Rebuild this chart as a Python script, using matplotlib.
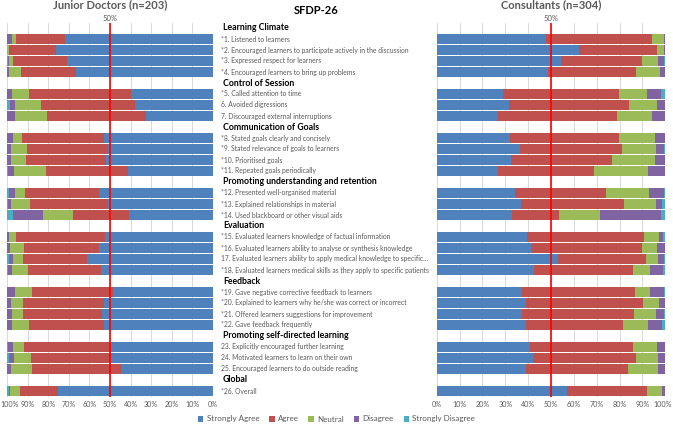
import matplotlib
matplotlib.use("Agg")
import matplotlib.pyplot as plt
import matplotlib.transforms as mtransforms
from matplotlib.patches import Patch
import numpy as np

plt.rcParams['font.family'] = ['Lato', 'DejaVu Sans']

levels = ['Strongly Agree', 'Agree', 'Neutral', 'Disagree', 'Strongly Disagree']
colors = ['#4F81BD', '#C0504D', '#9BBB59', '#8064A2', '#4BACC6']

sections = [
    ('Learning Climate', [
        '*1. Listened to learners',
        '*2. Encouraged learners to participate actively in the discussion',
        '*3. Expressed respect for learners',
        '*4. Encouraged learners to bring up problems']),
    ('Control of Session', [
        '*5. Called attention to time',
        '6. Avoided digressions',
        '7. Discouraged external interruptions']),
    ('Communication of Goals', [
        '*8. Stated goals clearly and concisely',
        '*9. Stated relevance of goals to learners',
        '*10. Prioritised goals',
        '*11. Repeated goals periodically']),
    ('Promoting understanding and retention', [
        '*12. Presented well-organised material',
        '*13. Explained relationships in material',
        '*14. Used blackboard or other visual aids']),
    ('Evaluation', [
        '*15. Evaluated learners knowledge of factual information',
        '*16. Evaluated learners ability to analyse or synthesis knowledge',
        '17. Evaluated learners ability to apply medical knowledge to specific...',
        '*18. Evaluated learners medical skills as they apply to specific patients']),
    ('Feedback', [
        '*19. Gave negative corrective feedback to learners',
        '*20. Explained to learners why he/she was correct or incorrect',
        '*21. Offered learners suggestions for improvement',
        '*22. Gave feedback frequently']),
    ('Promoting self-directed learning', [
        '23. Explicitly encouraged further learning',
        '24. Motivated learners to learn on their own',
        '25. Encouraged learners to do outside reading']),
    ('Global', [
        '*26. Overall']),
]

# % per item: Strongly Agree, Agree, Neutral, Disagree, Strongly Disagree
junior = [
    [72.0, 23.4, 2.4, 2.1, 0.1],
    [76.3, 22.6, 1.0, 0.1, 0.0],
    [70.8, 26.3, 1.8, 0.5, 0.6],
    [66.5, 26.8, 5.8, 0.9, 0.0],
    [39.7, 49.5, 8.4, 2.4, 0.0],
    [37.7, 46.0, 12.4, 2.6, 1.3],
    [32.7, 48.1, 15.3, 3.9, 0.0],
    [53.0, 39.7, 4.4, 2.9, 0.0],
    [51.1, 39.2, 7.6, 2.1, 0.0],
    [51.9, 38.9, 7.3, 1.9, 0.0],
    [41.3, 39.8, 15.6, 2.9, 0.4],
    [55.1, 36.3, 4.8, 2.7, 1.1],
    [51.1, 37.6, 9.2, 1.8, 0.3],
    [40.8, 27.1, 14.4, 14.8, 2.9],
    [52.6, 43.1, 3.1, 1.2, 0.0],
    [55.2, 36.6, 6.9, 1.3, 0.0],
    [61.1, 31.1, 4.9, 1.8, 1.1],
    [54.5, 35.2, 7.9, 2.1, 0.3],
    [48.5, 39.2, 8.4, 3.9, 0.0],
    [53.1, 39.2, 5.8, 1.9, 0.0],
    [53.7, 38.5, 5.5, 2.3, 0.0],
    [53.1, 36.1, 8.4, 2.4, 0.0],
    [49.5, 42.3, 5.3, 2.4, 0.5],
    [49.5, 38.8, 8.5, 2.1, 1.1],
    [44.5, 43.2, 10.2, 2.1, 0.0],
    [75.3, 18.4, 4.8, 0.3, 1.2],
]

consultants = [
    [47.8, 46.6, 5.0, 0.6, 0.0],
    [62.1, 34.1, 3.4, 0.4, 0.0],
    [54.5, 35.3, 7.0, 2.5, 0.7],
    [48.7, 38.4, 10.6, 2.3, 0.0],
    [29.2, 50.4, 12.2, 6.3, 1.9],
    [31.8, 52.2, 12.4, 3.6, 0.0],
    [26.7, 52.2, 15.4, 5.7, 0.0],
    [32.1, 47.5, 15.7, 4.4, 0.3],
    [36.3, 44.9, 14.7, 3.4, 0.7],
    [32.5, 44.4, 18.4, 4.4, 0.3],
    [26.8, 41.8, 23.8, 7.3, 0.3],
    [34.4, 39.8, 18.5, 6.7, 0.6],
    [37.0, 45.0, 14.0, 2.5, 1.5],
    [32.8, 20.7, 17.9, 26.7, 1.9],
    [39.4, 51.2, 6.5, 1.9, 1.0],
    [41.5, 48.3, 6.6, 3.6, 0.0],
    [52.9, 38.8, 5.1, 2.5, 0.7],
    [42.7, 43.1, 7.6, 5.6, 1.0],
    [37.3, 49.4, 6.8, 5.8, 0.7],
    [39.1, 51.3, 6.7, 2.9, 0.0],
    [37.3, 48.8, 9.9, 3.6, 0.4],
    [39.1, 42.3, 11.0, 6.3, 1.3],
    [40.8, 45.1, 10.5, 3.6, 0.0],
    [42.1, 45.1, 9.6, 3.2, 0.0],
    [39.1, 44.5, 13.2, 2.9, 0.3],
    [57.1, 34.7, 6.9, 1.3, 0.0],
]

# row layout: header rows stay empty in the bar panels
header_rows, item_rows, item_labels = [], [], []
row = 0
for head, items in sections:
    header_rows.append((row, head))
    row += 1
    for it in items:
        item_rows.append(row)
        item_labels.append(it)
        row += 1
n_rows = row

W, H = 673, 424
fig = plt.figure(figsize=(W / 100, H / 100), dpi=100)

y0, y1 = 1 - 396.5 / H, 1 - 22.5 / H
ax_l = fig.add_axes([7 / W, y0, (213 - 7) / W, y1 - y0])
ax_r = fig.add_axes([436.7 / W, y0, (665.3 - 436.7) / W, y1 - y0])
ax_m = fig.add_axes([213 / W, y0, (436.7 - 213) / W, y1 - y0])

grey = '#595959'


def draw_panel(ax, data, title):
    data = np.array(data)
    left = np.zeros(len(data))
    for k in range(len(levels)):
        ax.barh(item_rows, data[:, k], left=left, height=0.82,
                color=colors[k], edgecolor='none', zorder=2)
        left += data[:, k]
    ax.set_xlim(0, 100)
    ax.set_ylim(n_rows - 0.5, -0.5)
    ax.set_xticks(np.arange(0, 101, 10))
    ax.set_xticklabels(['%d%%' % v for v in range(0, 101, 10)])
    ax.tick_params(axis='x', length=0, labelsize=5.1, colors=grey, pad=3)
    ax.set_yticks([])
    ax.grid(axis='x', color='#D9D9D9', linewidth=0.7, zorder=0)
    for s in ax.spines.values():
        s.set_visible(False)
    ax.axvline(50, color='#FF0000', linewidth=1.2, zorder=5)
    ax.text(50, -0.55, '50%', ha='center', va='bottom', fontsize=5.5, color=grey)
    ax.set_title(title, fontsize=8, color=grey, fontweight='bold', pad=10)


draw_panel(ax_l, junior, 'Junior Doctors (n=203)')
ax_l.invert_xaxis()
draw_panel(ax_r, consultants, 'Consultants (n=304)')

# keep the outer tick labels inside the canvas
shift = mtransforms.ScaledTranslation(2 / 72, 0, fig.dpi_scale_trans)
lab = ax_l.get_xticklabels()[-1]
lab.set_transform(lab.get_transform() + shift)
shift_r = mtransforms.ScaledTranslation(-2 / 72, 0, fig.dpi_scale_trans)
lab = ax_r.get_xticklabels()[-1]
lab.set_transform(lab.get_transform() + shift_r)

ax_m.set_xlim(0, 1)
ax_m.set_ylim(n_rows - 0.5, -0.5)
ax_m.axis('off')
for r, head in header_rows:
    ax_m.text(0.045, r, head, fontsize=6.3, fontweight='bold', color='black',
              ha='left', va='center')
for r, lab in zip(item_rows, item_labels):
    ax_m.text(0.036, r, lab, fontsize=4.85, color=grey, ha='left', va='center')
fig.text(316 / W, 1 - 10 / H, 'SFDP-26', fontsize=8, fontweight='bold',
         ha='center', va='center')

handles = [Patch(facecolor=c, edgecolor='none') for c in colors]
fig.legend(handles, levels, loc='center', bbox_to_anchor=(0.5, 1 - 419 / H),
           ncol=5, frameon=False, fontsize=5.8, labelcolor=grey,
           handlelength=0.7, handleheight=0.7, handletextpad=0.4,
           columnspacing=1.2, borderpad=0)

fig.savefig('out.png', dpi=100)
